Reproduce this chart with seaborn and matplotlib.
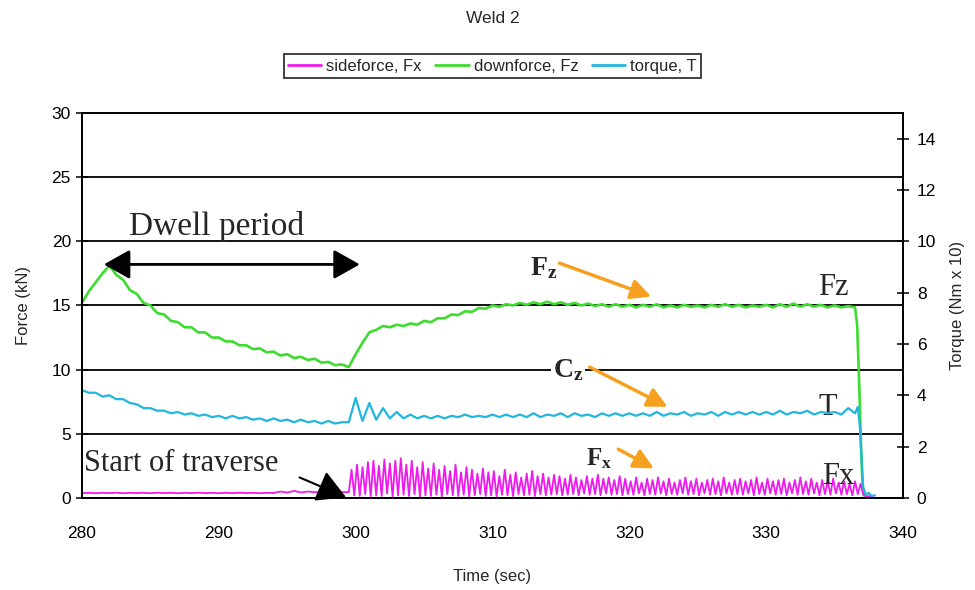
import numpy as np
import pandas as pd
import matplotlib
matplotlib.use("Agg")
import matplotlib.pyplot as plt
import seaborn as sns

# ---------------- data ----------------
# downforce Fz (kN), sampled every 0.5 s from 280.0 s
fz_start = 280.0
fz = [15.2, 16.1, 16.8, 17.5, 18.1, 17.4, 17.0, 16.2, 15.9, 15.2,
      15.0, 14.4, 14.3, 13.8, 13.7, 13.3, 13.3, 12.9, 12.9, 12.5,
      12.5, 12.2, 12.2, 11.9, 11.9, 11.6, 11.65, 11.35, 11.4, 11.1,
      11.2, 10.9, 11.0, 10.75, 10.85, 10.55, 10.6, 10.35, 10.4, 10.2,
      11.2, 12.1, 12.9, 13.1, 13.4, 13.3, 13.5, 13.4, 13.6, 13.5,
      13.8, 13.7, 14.0, 14.0, 14.3, 14.25, 14.55, 14.5, 14.8, 14.75,
      15.0, 14.9, 15.1, 15.0, 15.2, 15.05, 15.25, 15.1, 15.3, 15.1,
      15.25, 15.05, 15.2, 15.0, 15.15, 14.95, 15.1, 14.9, 15.1, 14.9,
      15.05, 14.85, 15.05, 14.9, 15.1, 14.85, 15.0, 14.85, 15.05, 14.9,
      15.0, 14.85, 15.05, 14.9, 15.1, 14.9, 15.05, 14.85, 15.0, 14.9,
      15.05, 14.85, 15.1, 14.9, 15.15, 14.9, 15.1, 14.9, 15.05, 14.85,
      15.0, 14.85, 14.95, 14.85]
fz_tail_t = [336.65, 336.8, 336.95, 337.05, 337.15]
fz_tail = [13.5, 9.0, 3.5, 1.0, 0.2]

# torque T (Nm x 10), sampled every 0.5 s from 280.0 s
t_start = 280.0
torque = [4.2, 4.1, 4.1, 3.95, 4.0, 3.85, 3.85, 3.7, 3.65, 3.5,
          3.5, 3.4, 3.4, 3.3, 3.35, 3.25, 3.3, 3.2, 3.25, 3.15,
          3.2, 3.1, 3.2, 3.1, 3.15, 3.05, 3.1, 3.0, 3.1, 3.0,
          3.05, 2.95, 3.05, 2.95, 3.0, 2.9, 3.0, 2.9, 2.95, 2.95,
          3.9, 3.0, 3.7, 3.05, 3.5, 3.1, 3.35, 3.1, 3.25, 3.1,
          3.2, 3.1, 3.2, 3.1, 3.2, 3.15, 3.25, 3.15, 3.2, 3.15,
          3.25, 3.15, 3.25, 3.15, 3.25, 3.15, 3.3, 3.15, 3.25, 3.2,
          3.3, 3.15, 3.3, 3.2, 3.25, 3.15, 3.3, 3.2, 3.3, 3.2,
          3.3, 3.2, 3.3, 3.2, 3.35, 3.2, 3.3, 3.25, 3.35, 3.2,
          3.3, 3.25, 3.35, 3.2, 3.35, 3.25, 3.35, 3.25, 3.35, 3.25,
          3.35, 3.25, 3.4, 3.25, 3.35, 3.3, 3.4, 3.25, 3.35, 3.3,
          3.35, 3.25, 3.5, 3.3]
torque_tail_t = [336.7, 336.85, 337.0, 337.1, 337.3, 337.5, 337.7, 337.95]
torque_tail = [3.55, 2.8, 1.3, 0.4, 0.12, 0.2, 0.08, 0.1]

# sideforce Fx (kN): before traverse, every 0.5 s from 280.0 s
fx_pre = [0.38, 0.4, 0.37, 0.4, 0.38, 0.41, 0.37, 0.4, 0.38, 0.4,
          0.37, 0.41, 0.38, 0.4, 0.37, 0.4, 0.38, 0.41, 0.38, 0.4,
          0.37, 0.4, 0.38, 0.41, 0.38, 0.4, 0.37, 0.4, 0.39, 0.5,
          0.42, 0.55, 0.43, 0.5, 0.45, 0.46, 0.45, 0.46, 0.45, 0.46]
# during traverse: oscillation peaks and troughs, alternating every 0.2 s from 299.7 s
fx_trav_start = 299.7
fx_peaks = [2.2, 2.6, 2.4, 2.8,
            2.9, 2.5, 3.0, 2.7, 2.9, 3.1, 2.6, 2.9, 2.4, 2.8,
            2.3, 2.7, 2.2, 2.5, 2.1, 2.6, 2.0, 2.4, 2.2, 1.9, 2.3, 2.0,
            2.1, 1.7, 2.2, 1.8, 2.0, 1.6, 1.9, 2.1, 1.7, 1.9, 1.6, 1.8,
            1.7, 1.5, 1.8, 1.6, 1.4, 1.7, 1.5, 1.8, 1.5, 1.6, 1.4, 1.7,
            1.5, 1.3, 1.6, 1.2, 1.5, 1.4, 1.6, 1.3, 1.5, 1.2, 1.4, 1.6,
            1.3, 1.5, 1.2, 1.4, 1.5, 1.3, 1.6, 1.2, 1.4, 1.5, 1.3, 1.4,
            1.6, 1.2, 1.5, 1.3, 1.4, 1.5, 1.2, 1.4, 1.6, 1.3, 1.5, 1.2,
            1.4, 1.3, 1.5, 1.2, 1.3, 1.1, 1.3, 1.1]
fx_troughs = [0.2, 0.15, 0.3, 0.1, 0.2, 0.15, 0.35, 0.1, 0.2, 0.25, 0.15, 0.3, 0.1, 0.2, 0.15, 0.25, 0.1, 0.3, 0.2, 0.15,
              0.25, 0.1, 0.2, 0.3, 0.15, 0.2, 0.1, 0.25, 0.2, 0.15, 0.3, 0.2, 0.25, 0.15, 0.3, 0.2, 0.25, 0.3, 0.2, 0.25,
              0.3, 0.2, 0.35, 0.25, 0.3, 0.2, 0.35, 0.25, 0.3, 0.2, 0.3, 0.25, 0.35, 0.2, 0.3, 0.25, 0.35, 0.2, 0.3, 0.25,
              0.35, 0.25, 0.3, 0.2, 0.35, 0.25, 0.3, 0.2, 0.35, 0.25, 0.3, 0.25, 0.35, 0.2, 0.3, 0.25, 0.35, 0.25, 0.3, 0.2,
              0.35, 0.25, 0.3, 0.25, 0.35, 0.2, 0.3, 0.25, 0.35, 0.25, 0.3, 0.2, 0.3, 0.25]
fx_tail_t = [337.3, 337.5, 337.7, 337.9]
fx_tail = [0.1, 0.15, 0.08, 0.05]

x_ticks = [280, 290, 300, 310, 320, 330, 340]
force_ticks = [0, 5, 10, 15, 20, 25, 30]
torque_ticks = [0, 2, 4, 6, 8, 10, 12, 14]
labels = ["sideforce, Fx", "downforce, Fz", "torque, T"]

# ---------------- build series ----------------
n = min(len(fx_peaks), len(fx_troughs))
fx_trav = np.empty(2 * n)
fx_trav[0::2] = fx_peaks[:n]
fx_trav[1::2] = fx_troughs[:n]
fx_t = np.concatenate([fz_start + 0.5 * np.arange(len(fx_pre)),
                       fx_trav_start + 0.2 * np.arange(2 * n), fx_tail_t])
fx_v = np.concatenate([fx_pre, fx_trav, fx_tail])
df_fx = pd.DataFrame({"t": fx_t, "v": fx_v})
df_fz = pd.DataFrame({"t": np.concatenate([fz_start + 0.5 * np.arange(len(fz)), fz_tail_t]),
                      "v": np.concatenate([fz, fz_tail])})
df_tq = pd.DataFrame({"t": np.concatenate([t_start + 0.5 * np.arange(len(torque)), torque_tail_t]),
                      "v": np.concatenate([torque, torque_tail])})

# ---------------- style ----------------
sns.set_style("white")
plt.rcParams["font.family"] = ["Liberation Sans", "DejaVu Sans"]
plt.rcParams["mathtext.fontset"] = "custom"
plt.rcParams["mathtext.rm"] = "Liberation Serif"
plt.rcParams["mathtext.bf"] = "Liberation Serif:bold"
plt.rcParams["mathtext.it"] = "Liberation Serif:italic"

C_FX = "#EE1BEE"
C_FZ = "#3DDC2E"
C_T = "#21B6DF"
C_OR = "#F5A11F"

fig = plt.figure(figsize=(9.75, 5.9), dpi=100)
ax = fig.add_axes([0.0841, 0.156, 0.842, 0.6525])
ax2 = ax.twinx()

sns.lineplot(data=df_fz, x="t", y="v", ax=ax, color=C_FZ, lw=1.9, estimator=None, sort=False,
             label=labels[1], legend=False)
sns.lineplot(data=df_fx, x="t", y="v", ax=ax, color=C_FX, lw=1.3, estimator=None, sort=False,
             label=labels[0], legend=False)
sns.lineplot(data=df_tq, x="t", y="v", ax=ax2, color=C_T, lw=1.6, estimator=None, sort=False,
             label=labels[2], legend=False)

ax.set_xlim(280, 340)
ax.set_ylim(0, 30)
ax2.set_ylim(0, 15)
ax.set_xticks(x_ticks)
ax.set_yticks(force_ticks)
ax2.set_yticks(torque_ticks)
ax.yaxis.grid(True, color="black", lw=1.3)
ax.xaxis.grid(False)
ax.set_axisbelow(True)

for a in (ax, ax2):
    for s in a.spines.values():
        s.set_color("black")
        s.set_linewidth(1.3)
ax.tick_params(axis="both", direction="inout", length=8, width=1.1, labelsize=12.5, colors="black")
ax.tick_params(axis="x", pad=16)
ax.tick_params(axis="y", pad=4)
ax2.tick_params(axis="y", direction="inout", length=8, width=1.1, labelsize=12.5, pad=6, colors="black")

ax.set_xlabel("Time (sec)", fontsize=12, labelpad=20)
ax.set_ylabel("Force (kN)", fontsize=12, labelpad=15)
ax2.set_ylabel("Torque (Nm x 10)", fontsize=12, labelpad=10)

fig.suptitle("Weld 2", x=0.505, y=0.982, fontsize=12.5)

h1, l1 = ax.get_legend_handles_labels()
h2, l2 = ax2.get_legend_handles_labels()
hd = dict(zip(l1 + l2, h1 + h2))
leg = fig.legend([hd[k] for k in labels], labels, loc="center", bbox_to_anchor=(0.505, 0.888),
                 ncol=3, fontsize=12, frameon=True, fancybox=False, edgecolor="black",
                 handlelength=2.0, handletextpad=0.3, columnspacing=0.8, borderpad=0.25,
                 borderaxespad=0)
leg.get_frame().set_linewidth(1.3)
for lh in leg.get_lines():
    lh.set_linewidth(2)

# ---------------- annotations ----------------
serif = ["Liberation Serif", "DejaVu Serif"]
ax.text(283.4, 20.5, "Dwell period", family=serif, fontsize=24, va="baseline", ha="left", zorder=6)
ax.annotate("", xy=(281.6, 18.2), xytext=(300.3, 18.2),
            arrowprops=dict(arrowstyle="<|-|>,head_length=0.8,head_width=0.45", mutation_scale=20,
                            lw=2, color="black", shrinkA=0, shrinkB=0))
ax.text(280.15, 2.1, "Start of traverse", family=serif, fontsize=22, va="baseline", ha="left", zorder=6)
ax.annotate("", xy=(299.3, 0.05), xytext=(295.9, 1.6),
            arrowprops=dict(arrowstyle="-|>,head_length=0.9,head_width=0.5", mutation_scale=20,
                            lw=1.5, color="black", shrinkA=0, shrinkB=0))

ax.text(312.75, 17.4, r"$\mathbf{F}_{\mathbf{z}}$", fontsize=20, va="baseline", ha="left", zorder=6)
ax.annotate("", xy=(321.6, 15.7), xytext=(314.9, 18.3),
            arrowprops=dict(arrowstyle="-|>,head_length=0.6,head_width=0.3", mutation_scale=20,
                            lw=2.5, color=C_OR, shrinkA=0, shrinkB=0))
ax.text(314.4, 9.45, r"$\mathbf{C}_{\mathbf{z}}$", fontsize=20, va="baseline", ha="left", zorder=6,
        bbox=dict(facecolor="white", edgecolor="none", pad=1))
ax.annotate("", xy=(322.8, 7.1), xytext=(317.1, 10.2),
            arrowprops=dict(arrowstyle="-|>,head_length=0.6,head_width=0.3", mutation_scale=20,
                            lw=2.5, color=C_OR, shrinkA=0, shrinkB=0))
ax.text(316.8, 2.5, r"$\mathbf{F}_{\mathbf{x}}$", fontsize=18, va="baseline", ha="left", zorder=6)
ax.annotate("", xy=(321.8, 2.3), xytext=(319.2, 3.8),
            arrowprops=dict(arrowstyle="-|>,head_length=0.6,head_width=0.3", mutation_scale=20,
                            lw=2.5, color=C_OR, shrinkA=0, shrinkB=0))

ax.text(333.8, 15.8, "Fz", family=serif, fontsize=22, va="baseline", ha="left", zorder=6)
ax.text(333.8, 6.5, "T", family=serif, fontsize=22, va="baseline", ha="left", zorder=6)
ax.text(334.1, 1.1, "Fx", family=serif, fontsize=22, va="baseline", ha="left", zorder=6)

fig.savefig("out.png", dpi=100)
